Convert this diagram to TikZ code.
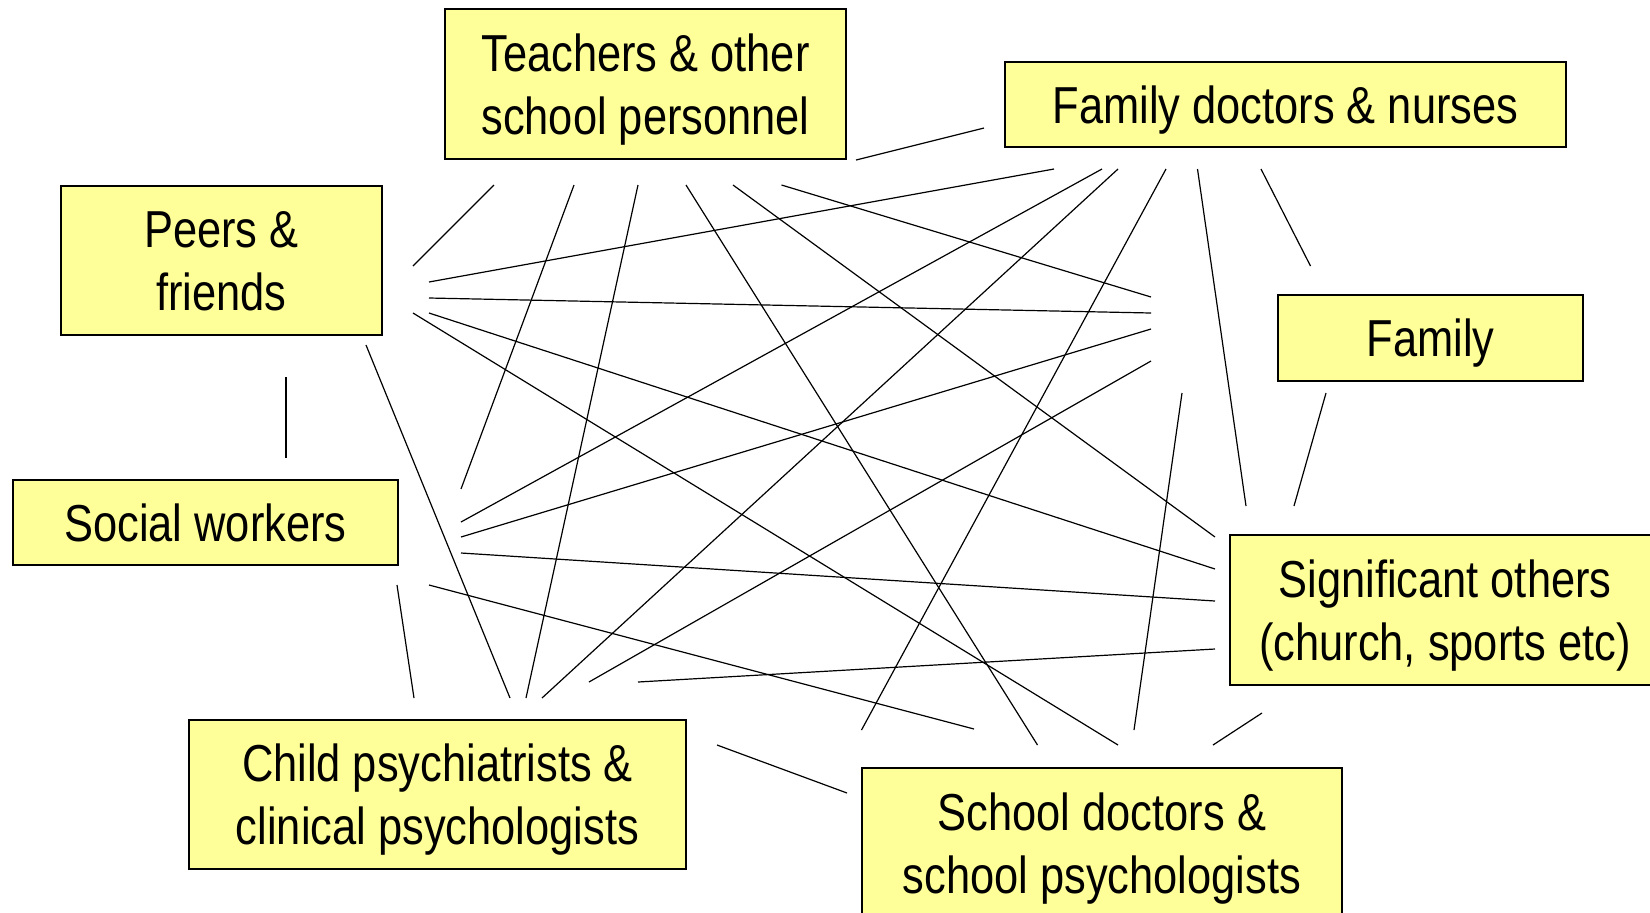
\documentclass[tikz,border=0pt]{standalone}
\usepackage{fontspec}
\setmainfont{Liberation Sans}[FakeStretch=0.835]
\definecolor{boxyellow}{RGB}{255,255,153}
\newcommand{\ms}{\rule[-6pt]{0pt}{30.6pt}}
\tikzset{
  box/.style={draw=black, line width=0.75pt, fill=boxyellow, inner sep=0pt,
    align=center, font=\fontsize{26pt}{31.5pt}\selectfont},
  link/.style={draw=black, line width=0.6pt}
}
\begin{document}
\begin{tikzpicture}[x=0.5pt,y=-0.5pt]
\useasboundingbox (0,0) rectangle (1650,912);
\fill[white] (0,0) rectangle (1650,912);
\clip (0,0) rectangle (1650,912);

% boxes
\node[box, minimum width=200.5pt, minimum height=75pt] (teach) at (645.5,84) {\ms Teachers \& other\\\ms school personnel};
\node[box, minimum width=280.5pt, minimum height=42.5pt] (fdoc) at (1285.5,104.5) {\ms Family doctors \& nurses};
\node[box, minimum width=160.5pt, minimum height=74.5pt] (peers) at (221.5,260.5) {\ms Peers \&\\\ms friends};
\node[box, minimum width=152.5pt, minimum height=43pt] (family) at (1430.5,338) {\ms Family};
\node[box, minimum width=192.5pt, minimum height=42.5pt] (social) at (205.5,522.5) {\ms Social workers};
\node[box, minimum width=215pt, minimum height=75pt] (sig) at (1445,610) {\ms Significant others\\\ms (church, sports etc)};
\node[box, minimum width=248.5pt, minimum height=74.5pt] (child) at (437.5,794.5) {\ms Child psychiatrists \&\\\ms clinical psychologists};
\node[box, minimum width=240pt, minimum height=75pt] (school) at (1102,843) {\ms School doctors \&\\\ms school psychologists};

% connector end points
\coordinate (l1a) at (494,185);    \coordinate (l1b) at (413,266);
\coordinate (l2a) at (856,160);    \coordinate (l2b) at (984,128);
\coordinate (l3a) at (429,282);    \coordinate (l3b) at (1054,169);
\coordinate (l4a) at (429,298);    \coordinate (l4b) at (1151,313);
\coordinate (l5a) at (429,313);    \coordinate (l5b) at (1215,569);
\coordinate (l6a) at (413,313);    \coordinate (l6b) at (1118,745);
\coordinate (l7a) at (366,345);    \coordinate (l7b) at (510,698);
\coordinate (l8a) at (286,377);    \coordinate (l8b) at (286,458);
\coordinate (l9a) at (574,185);    \coordinate (l9b) at (461,489);
\coordinate (l10a) at (638,185);   \coordinate (l10b) at (526,698);
\coordinate (l11a) at (686,185);   \coordinate (l11b) at (1037.5,745);
\coordinate (l12a) at (733,185);   \coordinate (l12b) at (1215,537);
\coordinate (l13a) at (781.5,185); \coordinate (l13b) at (1151,297);
\coordinate (l14a) at (1102,169);  \coordinate (l14b) at (461,522);
\coordinate (l15a) at (1118,169);  \coordinate (l15b) at (542,698);
\coordinate (l16a) at (1166,169);  \coordinate (l16b) at (861.5,730);
\coordinate (l17a) at (1197.5,169);\coordinate (l17b) at (1246,506);
\coordinate (l18a) at (1261,169);  \coordinate (l18b) at (1310.5,266);
\coordinate (l19a) at (1326,393);  \coordinate (l19b) at (1294,506);
\coordinate (l20a) at (1182,393);  \coordinate (l20b) at (1134,730);
\coordinate (l21a) at (1151,329);  \coordinate (l21b) at (461,537);
\coordinate (l22a) at (1151,361);  \coordinate (l22b) at (589,682);
\coordinate (l23a) at (461,553);   \coordinate (l23b) at (1215,601);
\coordinate (l24a) at (429,585);   \coordinate (l24b) at (974,729);
\coordinate (l25a) at (397,585);   \coordinate (l25b) at (414,698);
\coordinate (l26a) at (717,745);   \coordinate (l26b) at (847,793);
\coordinate (l27a) at (638,682);   \coordinate (l27b) at (1215,649);
\coordinate (l28a) at (1213,745);  \coordinate (l28b) at (1262,713);

\foreach \i in {1,...,28} {
  \draw[link] (l\i a) -- (l\i b);
}
\end{tikzpicture}
\end{document}
